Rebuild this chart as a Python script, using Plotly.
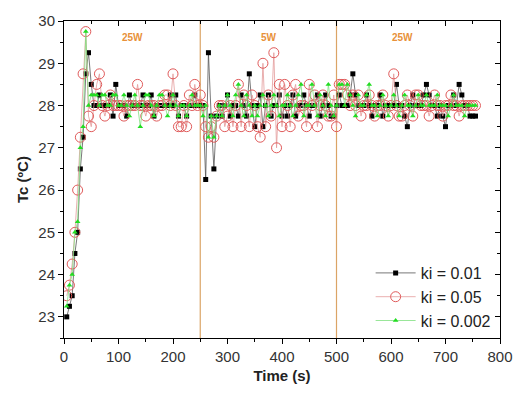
import plotly.graph_objects as go

# Sampling times (s)
time_s = [5 * k for k in range(1, 152)]

# Controller temperature response Tc (degC) for three integral gains
tc_ki_001 = [
    23.0, 23.25, 23.5, 24.5, 25.0, 26.5, 27.25, 28.75, 29.25, 28.5,
    28.0, 28.0, 28.25, 28.0, 28.0, 28.0, 28.25, 27.75, 28.5, 28.0,
    28.0, 28.0, 27.75, 28.25, 28.0, 28.0, 28.0, 28.0, 28.25, 28.0,
    28.0, 28.25, 27.75, 28.0, 28.0, 28.0, 28.0, 28.0, 28.25, 28.0,
    28.25, 27.75, 28.0, 28.0, 27.75, 28.0, 28.0, 28.25, 28.0, 28.0,
    28.0, 26.25, 29.25, 27.75, 26.5, 27.75, 28.0, 27.75, 28.0, 28.25,
    27.75, 28.0, 28.0, 27.75, 28.25, 28.0, 27.75, 28.75, 28.0, 27.5,
    28.0, 28.25, 27.5, 28.0, 28.25, 27.75, 28.0, 28.0, 28.25, 27.75,
    28.0, 27.75, 28.0, 28.25, 27.75, 28.0, 28.0, 28.25, 28.0, 27.75,
    28.0, 28.0, 28.25, 27.75, 28.0, 28.25, 28.0, 27.75, 27.75, 28.0,
    28.25, 28.0, 28.0, 28.0, 28.25, 28.75, 28.25, 28.0, 28.0, 28.0,
    28.25, 28.0, 27.75, 28.0, 28.0, 28.25, 27.75, 28.0, 28.0, 28.0,
    28.0, 28.5, 28.0, 28.0, 27.75, 27.5, 28.0, 28.25, 28.0, 28.0,
    28.0, 28.25, 28.5, 28.25, 28.0, 28.0, 27.75, 28.0, 27.75, 27.5,
    28.0, 28.0, 28.25, 28.0, 28.5, 28.25, 28.0, 28.0, 27.75, 27.75, 27.75,
]

tc_ki_005 = [
    23.5, 23.75, 24.25, 25.0, 26.0, 27.25, 28.75, 29.75, 27.75, 27.5,
    28.0, 28.5, 28.75, 28.0, 27.75, 28.0, 28.25, 28.0, 28.0, 28.0,
    28.0, 27.75, 28.0, 28.0, 28.0, 28.0, 28.5, 28.0, 28.0, 27.75,
    28.0, 28.0, 28.0, 27.75, 28.0, 28.0, 28.25, 28.25, 28.0, 28.75,
    28.0, 27.5, 27.5, 28.0, 27.5, 28.25, 28.0, 28.5, 28.0, 28.25,
    28.0, 27.5, 27.25, 27.5, 27.25, 27.75, 28.0, 28.0, 27.5, 27.75,
    28.0, 27.5, 28.0, 28.5, 27.5, 28.25, 28.0, 27.5, 28.25, 28.0,
    27.5, 27.25, 29.0, 27.5, 28.25, 27.75, 29.25, 27.0, 28.5, 27.5,
    28.5, 28.0, 27.5, 28.25, 28.5, 27.75, 28.0, 28.0, 27.5, 28.5,
    28.0, 28.25, 27.5, 28.0, 28.25, 28.0, 27.75, 27.75, 28.25, 27.5,
    28.5, 28.5, 28.5, 28.25, 28.0, 28.25, 28.0, 28.25, 27.75, 28.0,
    28.0, 28.25, 28.0, 27.75, 28.0, 28.0, 28.25, 28.0, 27.75, 28.0,
    28.75, 28.0, 27.75, 27.75, 28.0, 28.25, 28.0, 27.75, 28.25, 28.25,
    28.0, 28.0, 28.0, 27.75, 28.0, 28.25, 28.0, 28.0, 27.75, 28.0,
    28.0, 28.25, 28.0, 28.0, 27.75, 28.0, 28.0, 28.0, 28.0, 28.0, 28.0,
]

tc_ki_0002 = [
    23.25, 23.75, 24.0, 25.0, 25.25, 27.0, 27.5, 29.75, 28.0, 28.25,
    28.25, 28.25, 28.0, 28.25, 28.25, 28.0, 28.0, 28.25, 28.25, 28.0,
    28.0, 28.25, 28.0, 27.75, 28.0, 28.25, 28.0, 27.5, 28.0, 28.25,
    28.25, 28.0, 27.75, 28.0, 28.25, 28.25, 28.0, 27.75, 28.0, 28.25,
    28.0, 27.75, 28.0, 28.0, 27.75, 28.0, 28.25, 28.0, 28.0, 28.0,
    27.75, 28.0, 27.25, 27.75, 27.25, 27.75, 28.0, 27.75, 28.0, 28.25,
    28.0, 27.75, 28.25, 28.5, 28.0, 27.75, 28.25, 28.0, 27.75, 28.0,
    27.75, 28.0, 28.25, 28.0, 27.75, 28.0, 28.25, 28.0, 27.75, 28.0,
    28.0, 28.25, 28.0, 27.75, 28.0, 28.25, 28.5, 27.75, 28.0, 28.0,
    28.5, 28.0, 27.75, 28.25, 28.0, 27.75, 28.5, 28.0, 27.75, 28.0,
    28.5, 28.5, 28.0, 28.5, 28.25, 28.0, 27.75, 28.25, 28.0, 28.0,
    28.25, 28.5, 28.0, 28.0, 27.75, 28.0, 28.25, 28.0, 27.75, 28.0,
    28.25, 28.0, 27.75, 28.0, 28.25, 28.0, 28.0, 27.75, 28.0, 28.25,
    28.0, 28.0, 28.25, 28.0, 28.0, 28.0, 28.25, 28.0, 28.0, 28.0,
    27.75, 28.0, 28.25, 28.0, 28.0, 28.0, 27.75, 28.0, 28.0, 28.0, 28.0,
]

# Heater power step changes
step_times = [250, 500]
phase_labels = ["25W", "5W", "25W"]
phase_label_x = [125, 376, 622]
phase_label_y = 29.62

x_range = [0, 800]
y_range = [22.5, 30]

font_family = "Liberation Sans, Arial, sans-serif"
tick_color = "#333333"
phase_color = "#e8913a"
step_color = "#dba466"

fig = go.Figure()

fig.add_trace(go.Scatter(
    x=time_s, y=tc_ki_001, name="ki = 0.01", mode="lines+markers",
    line=dict(color="#555555", width=0.8),
    marker=dict(symbol="square", size=5, color="black"),
))
fig.add_trace(go.Scatter(
    x=time_s, y=tc_ki_005, name="ki = 0.05", mode="lines+markers",
    line=dict(color="#e39a9a", width=0.8),
    marker=dict(symbol="circle-open", size=10, color="#e05a5a", line=dict(width=1)),
))
fig.add_trace(go.Scatter(
    x=time_s, y=tc_ki_0002, name="ki = 0.002", mode="lines+markers",
    line=dict(color="#7fe07f", width=0.8),
    marker=dict(symbol="triangle-up", size=5, color="#22dd22"),
))

for t in step_times:
    fig.add_shape(type="line", x0=t, x1=t, y0=y_range[0], y1=y_range[1],
                  xref="x", yref="y", line=dict(color=step_color, width=1.2),
                  layer="below")

for label, lx in zip(phase_labels, phase_label_x):
    fig.add_annotation(x=lx, y=phase_label_y, text="<b>" + label + "</b>",
                       showarrow=False, xref="x", yref="y",
                       font=dict(family=font_family, size=10, color=phase_color))

axis_common = dict(
    showline=True, linecolor="black", linewidth=1, showgrid=False,
    zeroline=False, ticklen=5, tickwidth=1, tickcolor="black",
    tickfont=dict(family=font_family, size=15, color=tick_color),
)

fig.update_layout(
    width=525, height=394,
    margin=dict(l=64, r=20, t=15, b=53),
    paper_bgcolor="white", plot_bgcolor="white",
    font=dict(family=font_family, color=tick_color),
    xaxis=dict(
        range=x_range, dtick=100, ticks="outside",
        minor=dict(dtick=50, ticks="outside", ticklen=3, tickcolor="black"),
        title=dict(text="<b>Time (s)</b>", font=dict(family=font_family, size=15, color="#222222"),
                   standoff=6),
        **axis_common,
    ),
    yaxis=dict(
        range=y_range, dtick=1, ticks="outside",
        minor=dict(dtick=0.5, ticks="outside", ticklen=3, tickcolor="black"),
        title=dict(text="<b>Tc (ºC)</b>", font=dict(family=font_family, size=15, color="#222222"),
                   standoff=6),
        **axis_common,
    ),
    xaxis2=dict(
        overlaying="x", side="top", matches="x", range=x_range, dtick=100,
        ticks="inside", showticklabels=False,
        minor=dict(dtick=50, ticks="inside", ticklen=3, tickcolor="black"),
        **axis_common,
    ),
    yaxis2=dict(
        overlaying="y", side="right", matches="y", range=y_range, dtick=1,
        ticks="inside", showticklabels=False,
        minor=dict(dtick=0.5, ticks="inside", ticklen=3, tickcolor="black"),
        **axis_common,
    ),
    legend=dict(
        x=0.99, y=0.0, xanchor="right", yanchor="bottom",
        bgcolor="rgba(255,255,255,0)", borderwidth=0,
        font=dict(family=font_family, size=16, color="#222222"),
        itemwidth=40,
    ),
    showlegend=True,
)

# Invisible helper trace keeps the mirrored top/right axes rendered
fig.add_trace(go.Scatter(x=[None], y=[None], xaxis="x2", yaxis="y2",
                         showlegend=False, hoverinfo="skip"))

fig.write_html("out.html")
